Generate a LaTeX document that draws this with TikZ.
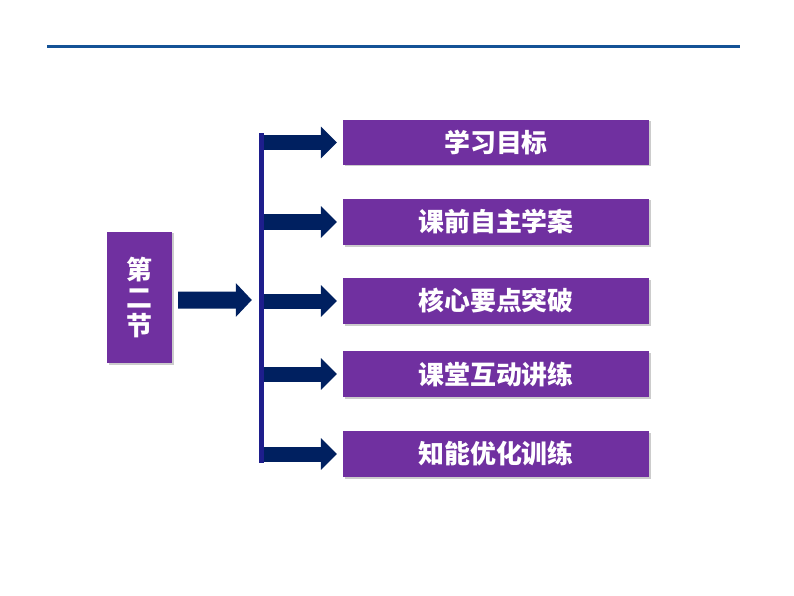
\documentclass[tikz,border=0pt]{standalone}
\usepackage{fontspec}
\newfontfamily\cjk{Noto Sans CJK SC}
\usetikzlibrary{arrows.meta,shadows}

\definecolor{kpurple}{RGB}{112,48,160}
\definecolor{knavy}{RGB}{0,32,96}
\definecolor{kbar}{RGB}{30,30,140}
\definecolor{kline}{RGB}{20,82,150}

\tikzset{
	itembox/.style={fill=kpurple, text=white, inner sep=0pt,
		font=\cjk\bfseries\fontsize{26}{28.5}\selectfont,
		drop shadow={shadow xshift=1.5bp, shadow yshift=-1.5bp, opacity=0.2, fill=black}},
	bigarrow/.style={draw=knavy, line width=15bp, line cap=butt,
		-{Triangle[length=16bp, width=31bp]}},
}

\begin{document}
\begin{tikzpicture}[x=1bp, y=-1bp]
	\useasboundingbox (0, 0) rectangle (794, 596);
	% title rule
	\coordinate (ruleL) at (47, 47);
	\coordinate (ruleR) at (740, 47);
	\draw [kline, line width=3bp] (ruleL) -- (ruleR);

	% section box and spine
	\node [itembox, minimum width=65bp, minimum height=131bp, align=center] (sec) at (139.5, 297.5) {第\\二\\节};
	\node [fill=kbar, inner sep=0pt, minimum width=5bp, minimum height=330bp] (spine) at (261.5, 298) {};

	% items
	\node [itembox, minimum width=306bp, minimum height=45bp] (goal) at (496, 142.5) {学习目标};
	\node [itembox, minimum width=306bp, minimum height=46bp] (prep) at (496, 222) {课前自主学案};
	\node [itembox, minimum width=306bp, minimum height=46bp] (key) at (496, 301) {核心要点突破};
	\node [itembox, minimum width=306bp, minimum height=46bp] (drill) at (496, 374) {课堂互动讲练};
	\node [itembox, minimum width=306bp, minimum height=46bp] (train) at (496, 454) {知能优化训练};

	% arrows
	\draw [bigarrow, line width=17bp, -{Triangle[length=16bp, width=33bp]}]
		([xshift=6bp, yshift=-2.5bp]sec.east) -- ([xshift=-7bp]spine.west |- 0, 300);
	\draw [bigarrow] (spine.east |- goal.west) -- ([xshift=-6bp]goal.west);
	\draw [bigarrow] (spine.east |- prep.west) -- ([xshift=-6bp]prep.west);
	\draw [bigarrow] (spine.east |- key.west) -- ([xshift=-6bp]key.west);
	\draw [bigarrow] (spine.east |- drill.west) -- ([xshift=-6bp]drill.west);
	\draw [bigarrow] (spine.east |- train.west) -- ([xshift=-6bp]train.west);
\end{tikzpicture}
\end{document}
